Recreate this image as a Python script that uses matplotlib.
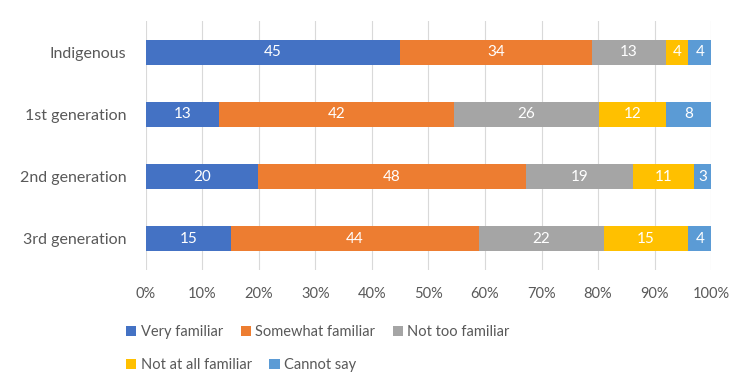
import numpy as np
import matplotlib
matplotlib.use('Agg')
import matplotlib.pyplot as plt

plt.rcParams['font.family'] = ['Lato', 'DejaVu Sans']

# Data
groups = ["Indigenous", "1st generation", "2nd generation", "3rd generation"]
series = ["Very familiar", "Somewhat familiar", "Not too familiar",
          "Not at all familiar", "Cannot say"]
very_familiar = [45, 13, 20, 15]
somewhat_familiar = [34, 42, 48, 44]
not_too_familiar = [13, 26, 19, 22]
not_at_all_familiar = [4, 12, 11, 15]
cannot_say = [4, 8, 3, 4]

colors = ["#4472C4", "#ED7D31", "#A5A5A5", "#FFC000", "#5B9BD5"]
text_col = "#595959"

values = np.array([very_familiar, somewhat_familiar, not_too_familiar,
                   not_at_all_familiar, cannot_say], dtype=float)
shares = values / values.sum(axis=0)  # 100% stacked

fig = plt.figure(figsize=(7.54, 3.87), dpi=100)
ax = fig.add_axes([0.1936, 0.3023, 0.7494, 0.6434])

y = np.arange(len(groups))
left = np.zeros(len(groups))
handles = []
for i, name in enumerate(series):
    bars = ax.barh(y, shares[i], left=left, height=0.4, color=colors[i],
                   label=name, zorder=3)
    handles.append(bars)
    ax.bar_label(bars, labels=[str(int(v)) for v in values[i]],
                 label_type='center', color='white', fontsize=11)
    left += shares[i]

ax.set_ylim(3.5, -0.5)
ax.set_xlim(0, 1)
ax.set_yticks(y)
ax.set_yticklabels(groups, fontsize=11.5, color=text_col)
ax.set_xticks(np.linspace(0, 1, 11))
ax.set_xticklabels([f"{p}%" for p in range(0, 101, 10)], fontsize=10.5, color=text_col)
ax.tick_params(length=0, pad=12)
ax.tick_params(axis='y', pad=14)
ax.grid(axis='x', color="#D9D9D9", linewidth=0.8, zorder=0)
for s in ax.spines.values():
    s.set_visible(False)

leg_kw = dict(frameon=False, fontsize=10.5, handlelength=0.7, handleheight=0.7,
              handletextpad=0.3, columnspacing=1.2, labelcolor=text_col,
              loc='center left')
fig.legend(handles[:3], series[:3], ncol=3, bbox_to_anchor=(0.150, 0.142), **leg_kw)
fig.legend(handles[3:], series[3:], ncol=2, bbox_to_anchor=(0.150, 0.057), **leg_kw)

fig.savefig("out.png", dpi=100)
